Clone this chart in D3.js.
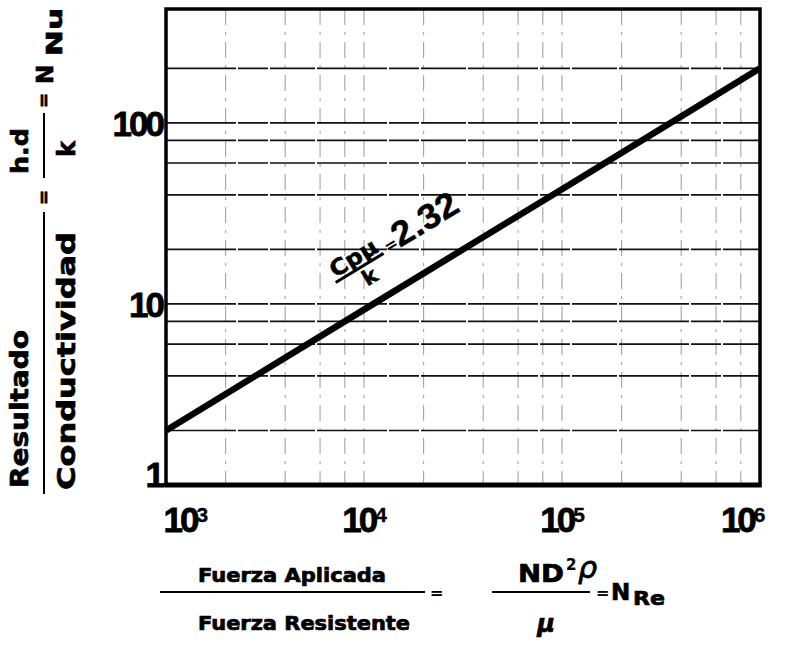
<!DOCTYPE html>
<html>
<head>
<meta charset="utf-8">
<script src="https://cdn.jsdelivr.net/npm/d3@7"></script>
<style>
  body { margin: 0; background: #fff; }
  svg { display: block; }
</style>
</head>
<body>
<div id="chart"></div>
<script>
// axis ranges (log-log)
var reDomain = [1e3, 1e6]
var nuDomain = [1, 425]

// the single correlation line, Cp.mu/k = 2.32
var lineRe = [1e3, 1e4, 1e5, 1e6]
var lineNu = [2, 9.3, 43, 200]

// grid
var hGrid = [2, 4, 6, 8, 10, 20, 40, 60, 80, 100, 200]
var vGrid = [2e3, 4e3, 6e3, 8e3, 1e4, 2e4, 4e4, 6e4, 8e4, 1e5, 2e5, 4e5, 6e5, 8e5]

// ticks
var yTicks = [1, 10, 100]
var xTicks = [1e3, 1e4, 1e5, 1e6]
var xExp = ["3", "4", "5", "6"]

// annotation placement (data coords)
var annoRe = 9500, annoNu = 15.8

var W = 788, H = 648
var margin = {top: 9, right: 28, bottom: 163, left: 166},
    width = W - margin.left - margin.right,
    height = H - margin.top - margin.bottom;

var svg = d3.select("#chart")
  .append("svg")
    .attr("width", W)
    .attr("height", H)

var g = svg.append("g")
    .attr("transform", "translate(" + margin.left + "," + margin.top + ")")

var x = d3.scaleLog().domain(reDomain).range([0, width])
var y = d3.scaleLog().domain(nuDomain).range([height, 0])

// vertical grid - broken, faint dash-dot
g.append("g")
  .selectAll("line")
  .data(vGrid)
  .enter()
  .append("line")
    .attr("x1", function(d){ return x(d) })
    .attr("x2", function(d){ return x(d) })
    .attr("y1", 0).attr("y2", height)
    .attr("stroke", "#333")
    .attr("stroke-width", 1.1)
    .attr("stroke-opacity", 0.45)
    .attr("stroke-dasharray", "16 7 3 7")

// horizontal grid - nearly solid
g.append("g")
  .selectAll("line")
  .data(hGrid)
  .enter()
  .append("line")
    .attr("x1", 0).attr("x2", width)
    .attr("y1", function(d){ return y(d) })
    .attr("y2", function(d){ return y(d) })
    .attr("stroke", "#111")
    .attr("stroke-width", 1.7)
    .attr("stroke-dasharray", "70 2 30 2 45 2")

// frame
g.append("rect")
  .attr("x", 0).attr("y", 0)
  .attr("width", width).attr("height", height)
  .attr("fill", "none")
  .attr("stroke", "#000")
  .attr("stroke-width", 3.5)
g.append("line")
  .attr("x1", -1.5).attr("x2", width + 1.5)
  .attr("y1", height).attr("y2", height)
  .attr("stroke", "#000").attr("stroke-width", 5)

// the data line
var pts = lineRe.map(function(r, i){ return [r, lineNu[i]] })
g.append("path")
  .datum(pts)
  .attr("fill", "none")
  .attr("stroke", "#000")
  .attr("stroke-width", 6.5)
  .attr("d", d3.line()
    .x(function(d){ return x(d[0]) })
    .y(function(d){ return y(d[1]) }))

// y axis labels
var yAxis = g.append("g")
  .call(d3.axisLeft(y).tickValues(yTicks).tickSize(0).tickPadding(4).tickFormat(d3.format("d")))
yAxis.select(".domain").remove()
yAxis.selectAll("text")
  .attr("font-family", "Liberation Sans, Arial, sans-serif")
  .attr("font-weight", "bold")
  .attr("font-size", 35)
  .attr("letter-spacing", -3)
  .attr("fill", "#000")
  .attr("stroke", "#000").attr("stroke-width", 0.8)
  .attr("dy", function(d){ return d == 1 ? "0.05em" : "0.35em" })

// x axis labels 10^n
var xAxis = g.append("g")
  .attr("transform", "translate(0," + height + ")")
  .call(d3.axisBottom(x).tickValues(xTicks).tickSize(0).tickPadding(22).tickFormat(function(){ return "" }))
xAxis.select(".domain").remove()
xAxis.selectAll("text")
  .attr("font-family", "Liberation Sans, Arial, sans-serif")
  .attr("font-weight", "bold")
  .attr("font-size", 35)
  .attr("letter-spacing", -3)
  .attr("fill", "#000")
  .attr("stroke", "#000").attr("stroke-width", 0.8)
  .attr("text-anchor", function(d, i){ return i == 0 ? "start" : (i == xTicks.length - 1 ? "end" : "middle") })
  .attr("dx", function(d, i){ return i == 0 ? -3 : (i == xTicks.length - 1 ? 5 : 0) })
  .each(function(d, i){
    var t = d3.select(this)
    t.append("tspan").text("10")
    t.append("tspan").attr("dy", "-0.45em").attr("font-size", 21).attr("letter-spacing", 0)
      .attr("stroke-width", 0.3).text(xExp[i])
  })

// annotation  Cp.mu / k = 2.32 along the line
var ang = Math.atan2(y(lineNu[lineNu.length-1]) - y(lineNu[0]), x(lineRe[lineRe.length-1]) - x(lineRe[0])) * 180 / Math.PI
var anno = g.append("g")
  .attr("transform", "translate(" + x(annoRe) + "," + y(annoNu) + ") rotate(" + ang + ")")
  .attr("font-family", "DejaVu Sans, sans-serif")
  .attr("font-weight", "bold")
  .attr("fill", "#000")
anno.append("text").attr("x", 0).attr("y", -4).attr("text-anchor", "middle")
  .attr("font-size", 22).attr("textLength", 52).attr("lengthAdjust", "spacingAndGlyphs")
  .attr("stroke", "#000").attr("stroke-width", 0.6).text("Cpμ")
anno.append("line").attr("x1", -28).attr("x2", 28).attr("y1", 0).attr("y2", 0)
  .attr("stroke", "#000").attr("stroke-width", 3)
anno.append("text").attr("x", 4).attr("y", 20).attr("text-anchor", "middle")
  .attr("font-size", 21).attr("stroke", "#000").attr("stroke-width", 0.6).text("k")
anno.append("text").attr("x", 32).attr("y", 2).attr("font-size", 16).text("=")
anno.append("text").attr("x", 45).attr("y", 4).attr("font-family", "Liberation Sans, Arial, sans-serif")
  .attr("font-size", 35).attr("textLength", 72).attr("lengthAdjust", "spacingAndGlyphs")
  .attr("stroke", "#000").attr("stroke-width", 0.4).text("2.32")

// y axis title (rotated fractions)
var lab = svg.append("g")
  .attr("font-family", "DejaVu Sans, sans-serif")
  .attr("font-weight", "bold")
  .attr("fill", "#000")
  .attr("stroke", "#000")
  .attr("stroke-width", 0.7)

function vtext(px, py, txt, size, len) {
  var t = lab.append("text")
    .attr("transform", "translate(" + px + "," + py + ") rotate(-90)")
    .attr("font-size", size)
    .text(txt)
  if (len) t.attr("textLength", len).attr("lengthAdjust", "spacingAndGlyphs")
  return t
}
vtext(28, 488, "Resultado", 24, 158)
vtext(75, 490, "Conductividad", 25, 258)
lab.append("line").attr("x1", 44).attr("x2", 44).attr("y1", 212).attr("y2", 494)
  .attr("stroke-width", 2)
vtext(50, 205, "=", 18)
vtext(28, 174, "h.d", 23, 46)
lab.append("line").attr("x1", 44).attr("x2", 44).attr("y1", 113).attr("y2", 178)
  .attr("stroke-width", 2)
vtext(75, 157, "k", 24)
vtext(50, 108, "=", 18)
vtext(53, 84, "N", 23)
vtext(62, 56, "Nu", 22, 48)

// x axis title
var bx = svg.append("g")
  .attr("font-family", "DejaVu Sans, sans-serif")
  .attr("font-weight", "bold")
  .attr("fill", "#000")
  .attr("stroke", "#000")
  .attr("stroke-width", 0.7)
bx.append("text").attr("x", 198).attr("y", 582).attr("font-size", 19)
  .attr("textLength", 188).attr("lengthAdjust", "spacingAndGlyphs").text("Fuerza Aplicada")
bx.append("line").attr("x1", 160).attr("x2", 425).attr("y1", 592).attr("y2", 592)
  .attr("stroke-width", 2)
bx.append("text").attr("x", 198).attr("y", 630).attr("font-size", 19)
  .attr("textLength", 212).attr("lengthAdjust", "spacingAndGlyphs").text("Fuerza Resistente")
bx.append("text").attr("x", 430).attr("y", 598).attr("font-size", 16).attr("stroke-width", 0.2).text("=")
bx.append("text").attr("x", 518).attr("y", 582).attr("font-size", 24).attr("textLength", 46)
  .attr("lengthAdjust", "spacingAndGlyphs").text("ND")
bx.append("text").attr("x", 566).attr("y", 570).attr("font-size", 15).attr("stroke-width", 0.2).text("2")
bx.append("text").attr("x", 578).attr("y", 578).attr("font-size", 30).attr("font-weight", "normal")
  .attr("font-style", "italic").attr("stroke-width", 0.8).text("ρ")
bx.append("line").attr("x1", 492).attr("x2", 590).attr("y1", 592).attr("y2", 592)
  .attr("stroke-width", 2)
bx.append("text").attr("x", 546).attr("y", 632).attr("text-anchor", "middle").attr("font-size", 24)
  .attr("font-style", "italic").text("μ")
bx.append("text").attr("x", 596).attr("y", 598).attr("font-size", 16).attr("stroke-width", 0.2).text("=")
bx.append("text").attr("x", 611).attr("y", 600).attr("font-size", 23).text("N")
bx.append("text").attr("x", 633).attr("y", 605).attr("font-size", 20).attr("textLength", 32)
  .attr("lengthAdjust", "spacingAndGlyphs").text("Re")
</script>
</body>
</html>
